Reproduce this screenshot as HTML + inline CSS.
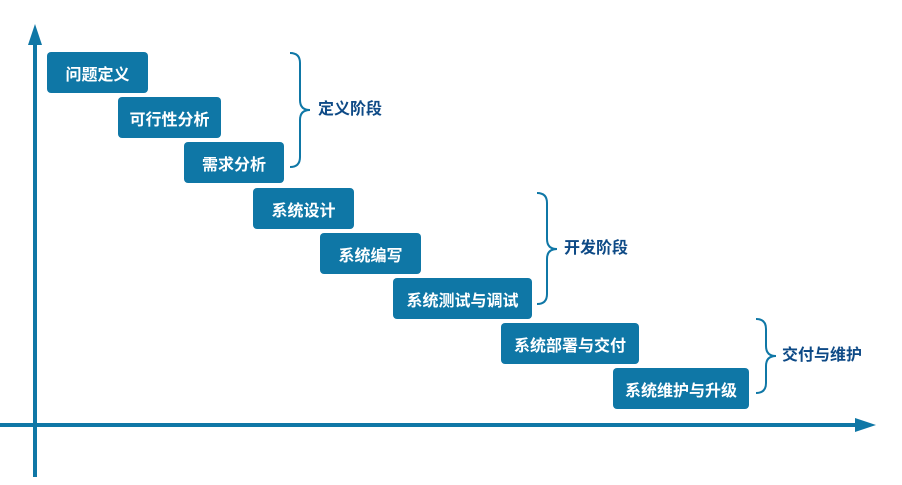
<!DOCTYPE html>
<html><head><meta charset="utf-8"><style>
body{margin:0;width:902px;height:485px;background:#fff;position:relative;overflow:hidden;font-family:"Liberation Sans","Noto Sans CJK SC",sans-serif}
.b{position:absolute;background:#0f77a6;border-radius:4px;color:#fff;font-weight:bold;font-size:16px;display:flex;align-items:center;justify-content:center;height:41px}
.l{position:absolute;color:#0e4a86;font-weight:bold;font-size:16px;line-height:18px}
</style></head><body>
<svg width="902" height="485" style="position:absolute;left:0;top:0">
<g fill="none" stroke="#0f77a6" stroke-width="4">
<line x1="35" y1="40" x2="35" y2="477"/>
<line x1="0" y1="425" x2="858" y2="425"/>
</g>
<polygon points="35,24 28,45 42,45" fill="#0f77a6"/>
<polygon points="876,425 855,418 855,432" fill="#0f77a6"/>
<g fill="none" stroke="#0f77a6" stroke-width="2">
<path d="M290,53 Q300,53 300,63 L300,100 Q300,110 310,110 Q300,110 300,120 L300,157 Q300,167 290,167"/>
<path d="M537,193 Q547,193 547,203 L547,239 Q547,249 557,249 Q547,249 547,259 L547,294 Q547,304 537,304"/>
<path d="M756,319 Q766,319 766,329 L766,346 Q766,356 776,356 Q766,356 766,366 L766,383 Q766,393 756,393"/>
</g>
</svg>
<div class="b" style="left:47px;top:52px;width:101px">问题定义</div>
<div class="b" style="left:118px;top:97px;width:103px">可行性分析</div>
<div class="b" style="left:184px;top:142px;width:100px">需求分析</div>
<div class="b" style="left:253px;top:188px;width:101px">系统设计</div>
<div class="b" style="left:320px;top:233px;width:101px">系统编写</div>
<div class="b" style="left:393px;top:278px;width:139px">系统测试与调试</div>
<div class="b" style="left:501px;top:323px;width:138px">系统部署与交付</div>
<div class="b" style="left:613px;top:368px;width:136px">系统维护与升级</div>
<div class="l" style="left:318px;top:101px">定义阶段</div>
<div class="l" style="left:564px;top:240px">开发阶段</div>
<div class="l" style="left:782px;top:347px">交付与维护</div>
</body></html>
